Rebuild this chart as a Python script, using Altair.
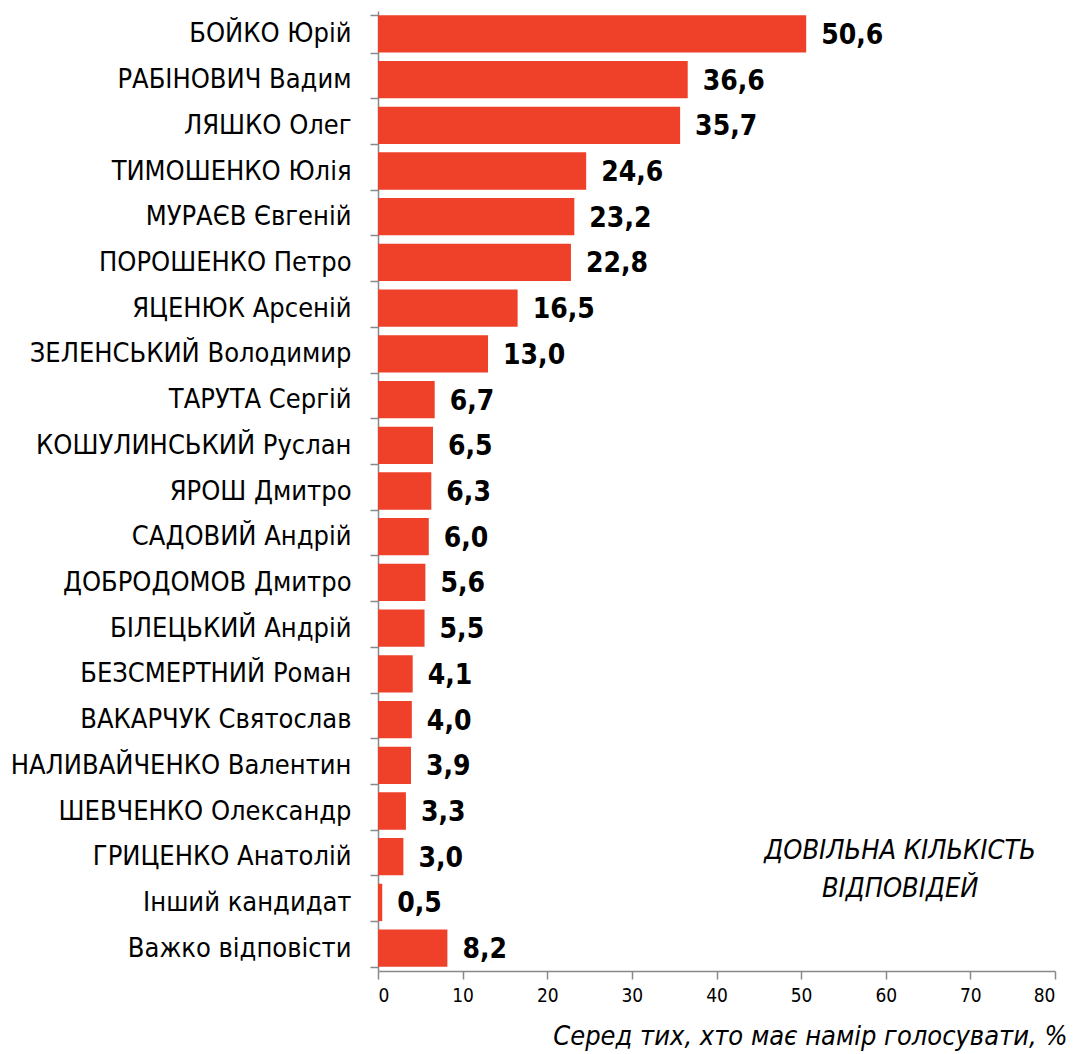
import altair as alt
import pandas as pd

names = ["БОЙКО Юрій", "РАБІНОВИЧ Вадим", "ЛЯШКО Олег", "ТИМОШЕНКО Юлія",
         "МУРАЄВ Євгеній", "ПОРОШЕНКО Петро", "ЯЦЕНЮК Арсеній",
         "ЗЕЛЕНСЬКИЙ Володимир", "ТАРУТА Сергій", "КОШУЛИНСЬКИЙ Руслан",
         "ЯРОШ Дмитро", "САДОВИЙ Андрій", "ДОБРОДОМОВ Дмитро",
         "БІЛЕЦЬКИЙ Андрій", "БЕЗСМЕРТНИЙ Роман", "ВАКАРЧУК Святослав",
         "НАЛИВАЙЧЕНКО Валентин", "ШЕВЧЕНКО Олександр", "ГРИЦЕНКО Анатолій",
         "Інший кандидат", "Важко відповісти"]
values = [50.6, 36.6, 35.7, 24.6, 23.2, 22.8, 16.5, 13.0, 6.7, 6.5, 6.3, 6.0,
          5.6, 5.5, 4.1, 4.0, 3.9, 3.3, 3.0, 0.5, 8.2]
labels = [f"{v:.1f}".replace(".", ",") for v in values]
x_ticks = [0, 10, 20, 30, 40, 50, 60, 70, 80]
note = ["ДОВІЛЬНА КІЛЬКІСТЬ", "ВІДПОВІДЕЙ"]
x_title = "Серед тих, хто має намір голосувати, %"

df = pd.DataFrame({"name": names, "value": values, "label": labels})
FONT = "DejaVu Sans Condensed, Liberation Sans, sans-serif"

y_enc = alt.Y("name:N", sort=names, title=None,
              scale=alt.Scale(paddingInner=0.184, paddingOuter=0.092),
              axis=alt.Axis(labelFont=FONT, labelFontSize=27, labelColor="#000000",
                            labelPadding=19, tickSize=8, tickColor="#888888",
                            tickBand="extent", domainColor="#888888",
                            domainWidth=1.5, tickWidth=1.5, labelLimit=400))
x_enc = alt.X("value:Q", title=x_title,
              scale=alt.Scale(domain=[0, 80], nice=False),
              axis=alt.Axis(values=x_ticks, grid=False, labelFont=FONT,
                            labelFontSize=19, labelColor="#000000",
                            tickSize=8, tickColor="#888888", tickWidth=1.5,
                            domainColor="#888888", domainWidth=1.5, labelPadding=7,
                            titleFont=FONT, titleFontSize=27, titleFontStyle="italic",
                            titleFontWeight="normal", titleColor="#000000",
                            titleAlign="right", titleAnchor="end",
                            titleX=689, titleY=65, titleBaseline="middle"))

bars = alt.Chart(df).mark_bar(color="#EF4129").encode(x=x_enc, y=y_enc)
text = alt.Chart(df).mark_text(align="left", dx=15, dy=2, font=FONT, fontSize=28,
                               fontWeight="bold", color="#000000").encode(
    x="value:Q", y=alt.Y("name:N", sort=names), text="label:N")
ann = alt.Chart(pd.DataFrame({"t": [note]})).mark_text(
    font=FONT, fontSize=27, fontStyle="italic", color="#000000",
    align="center", baseline="middle", lineHeight=38, dy=-6).encode(
    x=alt.datum(61.7), y=alt.datum("ГРИЦЕНКО Анатолій"), text="t")

chart = (bars + text + ann).properties(
    width=677, height=960,
    autosize=alt.AutoSizeParams(type="none"),
    padding={"left": 370, "top": 3, "right": 14, "bottom": 83},
).configure_view(stroke=None).configure_axis(labelFontWeight="normal")

chart.save("out.html", embed_options={"renderer": "svg", "actions": False})
